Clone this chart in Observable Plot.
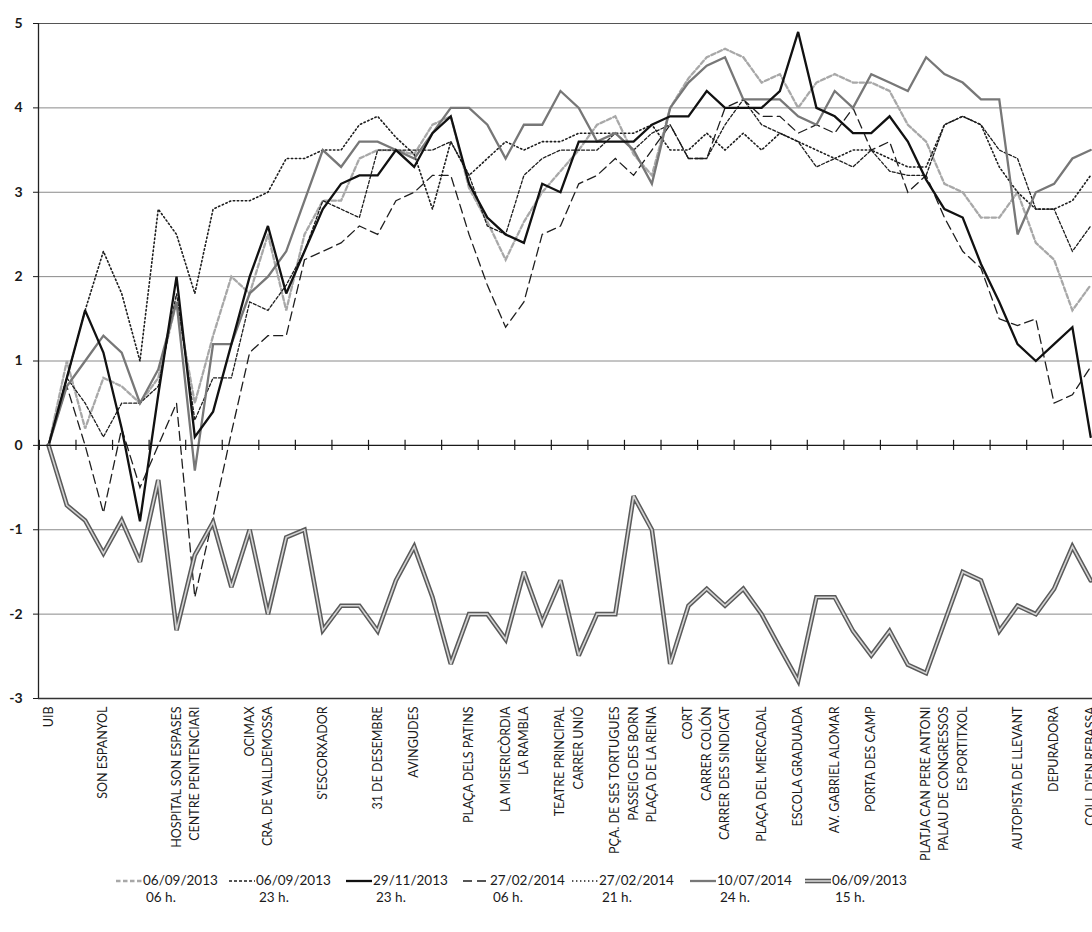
<!DOCTYPE html>
<html>
<head>
<meta charset="utf-8">
<script src="https://cdn.jsdelivr.net/npm/d3@7"></script>
<script src="https://cdn.jsdelivr.net/npm/@observablehq/plot@0.6"></script>
<style>
  body { margin: 0; background: #fff; }
  #wrap { position: relative; width: 1092px; height: 932px; overflow: hidden; font-family: Lato, "Open Sans", sans-serif; }
  #legend { position: absolute; left: 0; top: 872px; width: 1092px; height: 56px; }
  .item { position: absolute; top: 0; display: flex; align-items: flex-start; font-size: 13.5px; color: #1a1a1a; line-height: 17px; }
  .item svg { margin-top: 3px; margin-right: 1px; }
</style>
</head>
<body>
<div id="wrap"><div id="legend"></div></div>
<script>
// Stops along the route (category index -> label)
const stopIndex = [0, 3, 7, 8, 11, 12, 15, 18, 20, 23, 25, 26, 28, 29, 31, 32, 33, 35, 36, 37, 39, 41, 43, 45, 48, 49, 50, 53, 55, 57];
const stopName = [
  "UIB", "SON ESPANYOL", "HOSPITAL SON ESPASES", "CENTRE PENITENCIARI", "OCIMAX",
  "CRA. DE VALLDEMOSSA", "S'ESCORXADOR", "31 DE DESEMBRE", "AVINGUDES", "PLAÇA DELS PATINS",
  "LA MISERICÒRDIA", "LA RAMBLA", "TEATRE PRINCIPAL", "CARRER UNIÓ", "PÇA. DE SES TORTUGUES",
  "PASSEIG DES BORN", "PLAÇA DE LA REINA", "CORT", "CARRER COLÓN", "CARRER DES SINDICAT",
  "PLAÇA DEL MERCADAL", "ESCOLA GRADUADA", "AV. GABRIEL ALOMAR", "PORTA DES CAMP", "PLATJA CAN PERE ANTONI",
  "PALAU DE CONGRESSOS", "ES PORTITXOL", "AUTOPISTA DE LLEVANT", "DEPURADORA", "COLL D'EN REBASSA"
];
const yTicks = [-3, -2, -1, 0, 1, 2, 3, 4, 5];

// Thermal anomaly (ºC) at each point of the transect, one array per survey
const sep13_06h = [0, 1.0, 0.2, 0.8, 0.7, 0.5, 0.8, 1.7, 0.5, 1.3, 2.0, 1.8, 2.5, 1.6, 2.5, 2.9, 2.9, 3.4, 3.5,
  3.5, 3.45, 3.8, 3.9, 3.05, 2.65, 2.2, 2.65, 3.0, 3.25, 3.5, 3.8, 3.9, 3.45, 3.2, 4.0, 4.35, 4.6, 4.7,
  4.6, 4.3, 4.4, 4.0, 4.3, 4.4, 4.3, 4.3, 4.2, 3.8, 3.6, 3.1, 3.0, 2.7, 2.7, 3.0, 2.4, 2.2, 1.6, 1.9];
const sep13_23h = [0, 0.8, 0.5, 0.1, 0.5, 0.5, 0.7, 1.8, 0.3, 0.8, 0.8, 1.7, 1.6, 1.9, 2.3, 2.9, 2.8, 2.7, 3.5,
  3.5, 3.5, 3.5, 3.6, 3.2, 2.6, 2.5, 3.2, 3.4, 3.5, 3.5, 3.5, 3.7, 3.5, 3.7, 3.8, 3.4, 3.4, 3.8,
  4.1, 3.8, 3.7, 3.6, 3.3, 3.4, 3.3, 3.5, 3.25, 3.2, 3.2, 3.8, 3.9, 3.8, 3.5, 3.4, 2.8, 2.8, 2.3, 2.6];
const nov13_23h = [0, 0.8, 1.6, 1.1, 0.2, -0.9, 0.6, 2.0, 0.1, 0.4, 1.2, 2.0, 2.6, 1.8, 2.3, 2.8, 3.1, 3.2, 3.2,
  3.5, 3.3, 3.7, 3.9, 3.1, 2.7, 2.5, 2.4, 3.1, 3.0, 3.6, 3.6, 3.6, 3.6, 3.8, 3.9, 3.9, 4.2, 4.0,
  4.0, 4.0, 4.2, 4.9, 4.0, 3.9, 3.7, 3.7, 3.9, 3.6, 3.15, 2.8, 2.7, 2.15, 1.7, 1.2, 1.0, 1.2, 1.4, 0.1];
const feb14_06h = [0, 0.7, 0.0, -0.8, 0.2, -0.5, 0.0, 0.5, -1.8, -0.85, 0.15, 1.1, 1.3, 1.3, 2.2, 2.3, 2.4, 2.6, 2.5,
  2.9, 3.0, 3.2, 3.2, 2.5, 1.9, 1.4, 1.7, 2.5, 2.6, 3.1, 3.2, 3.4, 3.2, 3.5, 3.8, 3.4, 3.4, 4.0,
  4.1, 3.9, 3.9, 3.7, 3.8, 3.7, 4.0, 3.5, 3.6, 3.0, 3.2, 2.7, 2.3, 2.1, 1.5, 1.42, 1.5, 0.5, 0.6, 0.93];
const feb14_21h = [0, 0.8, 1.6, 2.3, 1.8, 1.0, 2.8, 2.5, 1.8, 2.8, 2.9, 2.9, 3.0, 3.4, 3.4, 3.5, 3.5, 3.8, 3.9,
  3.65, 3.45, 2.8, 3.6, 3.2, 3.4, 3.6, 3.5, 3.6, 3.6, 3.7, 3.7, 3.7, 3.7, 3.8, 3.5, 3.5, 3.7, 3.5,
  3.7, 3.5, 3.7, 3.6, 3.5, 3.4, 3.5, 3.5, 3.4, 3.3, 3.3, 3.8, 3.9, 3.8, 3.3, 3.0, 2.8, 2.8, 2.9, 3.2];
const jul14_24h = [0, 0.7, 1.0, 1.3, 1.1, 0.5, 0.9, 1.7, -0.3, 1.2, 1.2, 1.8, 2.0, 2.3, 2.9, 3.5, 3.3, 3.6, 3.6,
  3.5, 3.4, 3.7, 4.0, 4.0, 3.8, 3.4, 3.8, 3.8, 4.2, 4.0, 3.6, 3.7, 3.5, 3.1, 4.0, 4.3, 4.5, 4.6,
  4.1, 4.1, 4.1, 3.9, 3.8, 4.2, 4.0, 4.4, 4.3, 4.2, 4.6, 4.4, 4.3, 4.1, 4.1, 2.5, 3.0, 3.1, 3.4, 3.5];
const sep13_15h = [0, -0.71, -0.89, -1.28, -0.89, -1.38, -0.41, -2.19, -1.3, -0.91, -1.68, -1.0, -2.0, -1.09, -1.0, -2.19, -1.9, -1.9, -2.2,
  -1.6, -1.2, -1.8, -2.59, -2.0, -2.0, -2.3, -1.5, -2.1, -1.6, -2.49, -2.0, -2.0, -0.6, -1.0, -2.59, -1.9, -1.7, -1.9,
  -1.7, -2.0, -2.4, -2.79, -1.8, -1.8, -2.2, -2.49, -2.2, -2.6, -2.7, -2.1, -1.5, -1.6, -2.2, -1.9, -2.0, -1.7, -1.2, -1.6];

const seriesDate = ["06/09/2013", "06/09/2013", "29/11/2013", "27/02/2014", "27/02/2014", "10/07/2014", "06/09/2013"];
const seriesHour = ["06 h.", "23 h.", "23 h.", "06 h.", "21 h.", "24 h.", "15 h."];
const seriesValues = [sep13_06h, sep13_23h, nov13_23h, feb14_06h, feb14_21h, jul14_24h, sep13_15h];

// stroke styles per survey (last one is drawn as a double line)
const styles = [
  {stroke: "#a8a8a8", strokeWidth: 2.3, strokeDasharray: "4.5,2.5"},
  {stroke: "#1e1e1e", strokeWidth: 1.3, strokeDasharray: "3,2"},
  {stroke: "#111111", strokeWidth: 2.3},
  {stroke: "#1e1e1e", strokeWidth: 1.3, strokeDasharray: "9,5"},
  {stroke: "#1e1e1e", strokeWidth: 1.6, strokeDasharray: "1.4,2.6"},
  {stroke: "#777777", strokeWidth: 2.3},
  {stroke: "#5a5a5a", strokeWidth: 4.6, inner: "#d4d4d4", innerWidth: 1.6}
];

const rows = seriesValues.map(vals => vals.map((v, i) => ({i, v})));
const stops = stopIndex.map((i, k) => ({i, name: stopName[k]}));
const tickPos = d3.range(-0.5, 57, 2);

const W = 1092, H = 866;
const yBottom = 698;

const lineMarks = [];
[0, 1, 3, 4, 5, 2, 6].forEach(k => {
  const s = styles[k];
  lineMarks.push(Plot.line(rows[k], {
    x: "i", y: "v", stroke: s.stroke, strokeWidth: s.strokeWidth,
    strokeDasharray: s.strokeDasharray, strokeLinejoin: "miter", strokeMiterlimit: 3
  }));
  if (s.inner) {
    lineMarks.push(Plot.line(rows[k], {
      x: "i", y: "v", stroke: s.inner, strokeWidth: s.innerWidth, strokeLinejoin: "miter", strokeMiterlimit: 3
    }));
  }
});

const chart = Plot.plot({
  width: W,
  height: H,
  marginLeft: 38,
  marginRight: 0,
  marginTop: 23,
  marginBottom: H - yBottom,
  x: {domain: [-0.55, 57.1], axis: null},
  y: {domain: [-3, 5], axis: null},
  style: {fontFamily: "Lato, 'Open Sans', sans-serif", background: "#fff", color: "#1a1a1a"},
  marks: [
    Plot.ruleY([-2, -1, 1, 2, 3, 4], {stroke: "#8a8a8a", strokeWidth: 1}),
    Plot.ruleY([5], {stroke: "#555", strokeWidth: 1.2}),
    Plot.ruleY([-3], {stroke: "#333", strokeWidth: 1.3}),
    Plot.ruleX([-0.55], {y1: -3, y2: 5, stroke: "#222", strokeWidth: 1.3}),
    Plot.axisY({ticks: yTicks, tickSize: 5, tickPadding: 11, fontSize: 14, fontWeight: "bold", tickFormat: d => d, label: null}),
    ...lineMarks,
    Plot.ruleY([0], {stroke: "#1a1a1a", strokeWidth: 1.4}),
    Plot.ruleX(tickPos, {y1: -0.06, y2: 0.06, stroke: "#1a1a1a", strokeWidth: 1.2}),
    Plot.text(stops, {
      x: "i", y: -3, text: "name", rotate: -90, textAnchor: "end", lineAnchor: "middle",
      dy: 8, fontSize: 12.5, fill: "#1a1a1a"
    })
  ]
});
document.getElementById("wrap").prepend(chart);

// legend below the chart
const legendLeft = [116, 229, 346, 463, 572, 690, 805];
const legend = d3.select("#legend");
seriesDate.forEach((date, k) => {
  const s = styles[k];
  const item = legend.append("div").attr("class", "item").style("left", legendLeft[k] + "px");
  const svg = item.append("svg").attr("width", 26).attr("height", 12);
  svg.append("line").attr("x1", 0).attr("x2", 26).attr("y1", 6).attr("y2", 6)
    .attr("stroke", s.stroke).attr("stroke-width", s.strokeWidth)
    .attr("stroke-dasharray", s.strokeDasharray || null);
  if (s.inner) {
    svg.append("line").attr("x1", 0).attr("x2", 26).attr("y1", 6).attr("y2", 6)
      .attr("stroke", s.inner).attr("stroke-width", s.innerWidth);
  }
  const txt = item.append("div");
  txt.append("div").text(date);
  txt.append("div").style("padding-left", "3px").text(seriesHour[k]);
});
</script>
</body>
</html>
